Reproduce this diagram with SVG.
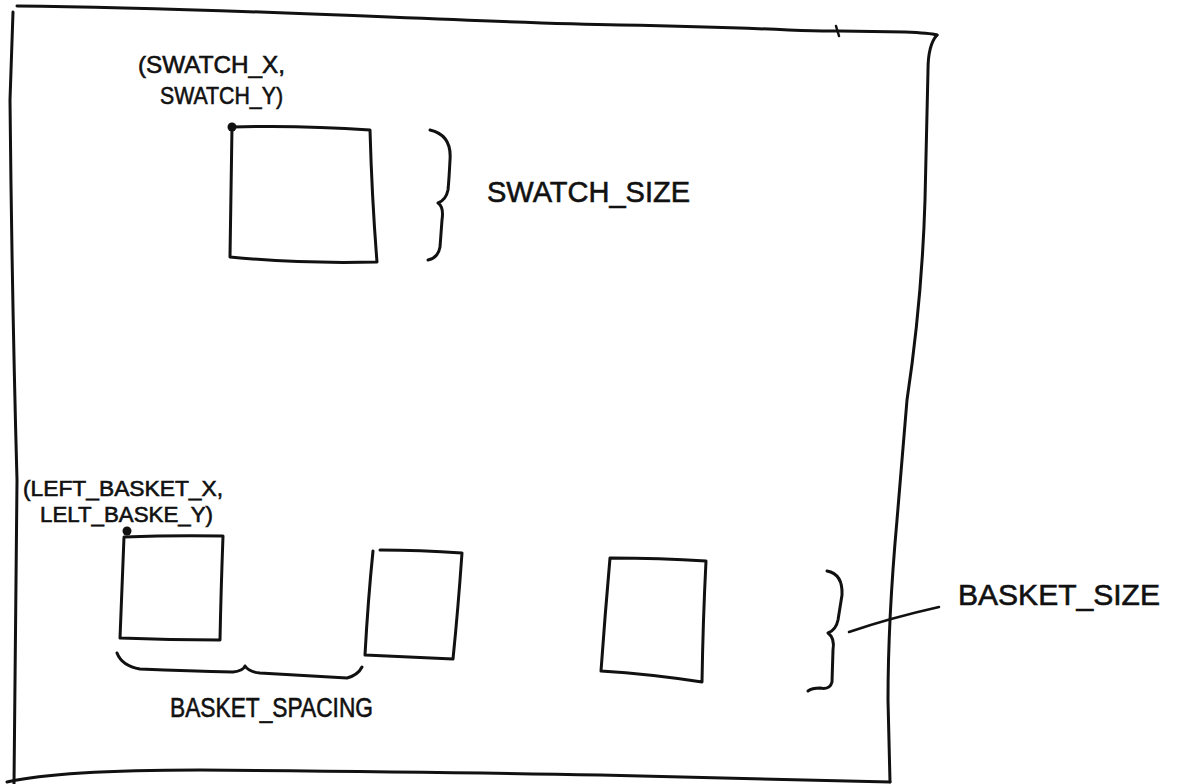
<svg xmlns="http://www.w3.org/2000/svg" width="1177" height="784" viewBox="0 0 1177 784">
  <style>
    .ink { fill: none; stroke: #111; stroke-width: 3; stroke-linecap: round; stroke-linejoin: round; }
    .thin { fill: none; stroke: #111; stroke-width: 2.5; stroke-linecap: round; stroke-linejoin: round; }
    .dot { fill: #111; }
    .lbl { font-family: "Liberation Sans", Arial, sans-serif; fill: #111; stroke: #111; stroke-width: 0.6; }
  </style>
  <rect x="0" y="0" width="1177" height="784" fill="#ffffff"/>

  <g id="frame">
    <path class="ink" d="M17,6 C 250,8 450,22 620,25 S 800,32 840,31 L 905,32 Q 930,33 937,35"/>
    <path class="thin" d="M836,26 L839,36"/>
    <path class="ink" d="M937,35 Q 928,45 928,70 L 925,200 Q 922,300 907,400 L 897,520 Q 888,620 888,700 L 890,782"/>
    <path class="ink" d="M13,12 L 10,100 Q 12,300 17,480 L 14,784"/>
    <path class="ink" d="M7,782 Q 60,770 200,770 Q 450,772 600,775 Q 800,780 890,782"/>
  </g>

  <g id="swatch">
    <path class="ink" d="M232,127 Q 300,125 370,130 Q 372,200 377,262 Q 300,264 230,257 Q 231,190 232,127 Z"/>
    <circle class="dot" cx="232" cy="127" r="4.5"/>
    <text class="lbl" x="138" y="73" font-size="24" textLength="147" lengthAdjust="spacingAndGlyphs">(SWATCH_X,</text>
    <text class="lbl" x="160" y="104" font-size="24" textLength="123" lengthAdjust="spacingAndGlyphs">SWATCH_Y)</text>
  </g>

  <g id="swatch-size">
    <text class="lbl" x="487" y="202" font-size="30" textLength="203" lengthAdjust="spacingAndGlyphs">SWATCH_SIZE</text>
  </g>

  <g id="basket-left">
    <path class="ink" d="M124,537 Q 175,535 223,536 Q 221,590 220,640 Q 170,640 120,638 Q 122,590 124,537 Z"/>
    <circle class="dot" cx="127" cy="531" r="4.5"/>
    <text class="lbl" x="23" y="496" font-size="22" textLength="200" lengthAdjust="spacingAndGlyphs">(LEFT_BASKET_X,</text>
    <text class="lbl" x="40" y="522" font-size="22" textLength="173" lengthAdjust="spacingAndGlyphs">LELT_BASKE_Y)</text>
  </g>

  <g id="basket-middle">
    <path class="ink" d="M380,550 Q 420,550 462,553 Q 458,610 453,659 Q 410,657 365,655 Q 368,600 373,551"/>
  </g>

  <g id="basket-right">
    <path class="ink" d="M610,558 Q 660,558 706,561 Q 703,620 702,682 Q 650,674 601,671 Q 605,615 610,558 Z"/>
  </g>

  <g id="basket-spacing">
    <text class="lbl" x="170" y="717" font-size="27" textLength="203" lengthAdjust="spacingAndGlyphs">BASKET_SPACING</text>
  </g>

  <g id="basket-size">
    <text class="lbl" x="958" y="605" font-size="29" textLength="202" lengthAdjust="spacingAndGlyphs">BASKET_SIZE</text>
  </g>

  <g id="connectors">
    <path class="ink" d="M430,130 Q 452,135 450,160 Q 449,180 448,190 Q 446,200 438,203 Q 444,207 442,220 L 440,247 Q 438,258 428,260"/>
    <path class="ink" d="M117,653 Q 122,666 140,669 Q 190,671 233,672 Q 243,671 245,666 Q 249,672 260,673 Q 310,676 347,678 Q 358,675 362,667"/>
    <path class="ink" d="M827,571 Q 843,574 842,595 L 838,620 Q 836,630 828,633 Q 835,638 833,650 L 832,682 Q 830,690 820,688 Q 812,688 808,691"/>
    <path class="thin" d="M849,632 Q 890,618 939,607"/>
  </g>
</svg>
